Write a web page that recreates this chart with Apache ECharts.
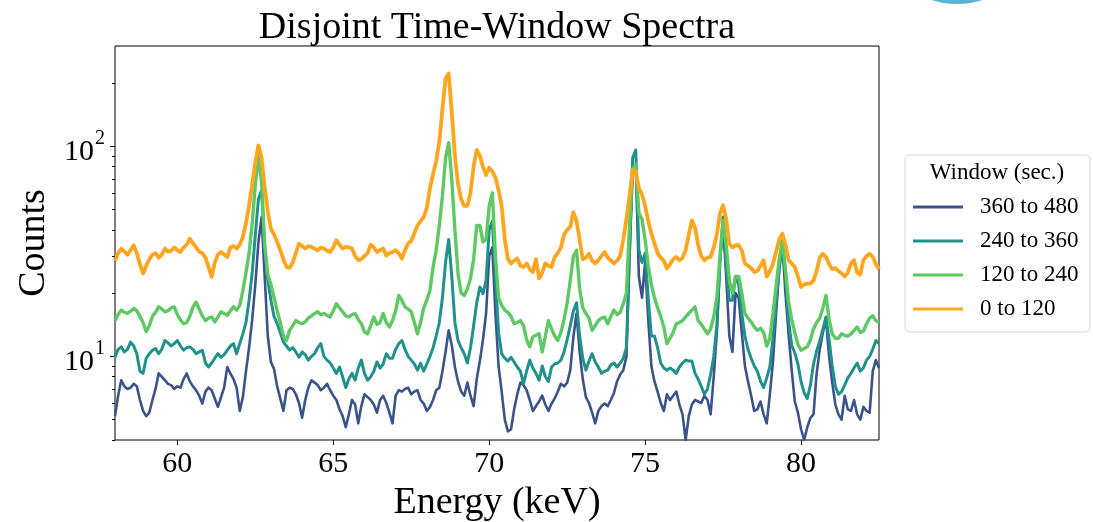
<!DOCTYPE html>
<html>
<head>
<meta charset="utf-8">
<script src="https://cdn.jsdelivr.net/npm/echarts@6/dist/echarts.min.js"></script>
<style>html,body{margin:0;padding:0;background:#fff;}#c{width:1093px;height:522px;}</style>
</head>
<body>
<div id="c"></div>
<script>
// Energy bins (keV)
const energy = [
58.0,58.1,58.2,58.3,58.4,58.5,58.6,58.7,58.8,58.9,
59.0,59.1,59.2,59.3,59.4,59.5,59.6,59.7,59.8,59.9,
60.0,60.1,60.2,60.3,60.4,60.5,60.6,60.7,60.8,60.9,
61.0,61.1,61.2,61.3,61.4,61.5,61.6,61.7,61.8,61.9,
62.0,62.1,62.2,62.3,62.4,62.5,62.6,62.7,62.8,62.9,
63.0,63.1,63.2,63.3,63.4,63.5,63.6,63.7,63.8,63.9,
64.0,64.1,64.2,64.3,64.4,64.5,64.6,64.7,64.8,64.9,
65.0,65.1,65.2,65.3,65.4,65.5,65.6,65.7,65.8,65.9,
66.0,66.1,66.2,66.3,66.4,66.5,66.6,66.7,66.8,66.9,
67.0,67.1,67.2,67.3,67.4,67.5,67.6,67.7,67.8,67.9,
68.0,68.1,68.2,68.3,68.4,68.5,68.6,68.7,68.8,68.9,
69.0,69.1,69.2,69.3,69.4,69.5,69.6,69.7,69.8,69.9,
70.0,70.1,70.2,70.3,70.4,70.5,70.6,70.7,70.8,70.9,
71.0,71.1,71.2,71.3,71.4,71.5,71.6,71.7,71.8,71.9,
72.0,72.1,72.2,72.3,72.4,72.5,72.6,72.7,72.8,72.9,
73.0,73.1,73.2,73.3,73.4,73.5,73.6,73.7,73.8,73.9,
74.0,74.1,74.2,74.3,74.4,74.5,74.6,74.7,74.8,74.9,
75.0,75.1,75.2,75.3,75.4,75.5,75.6,75.7,75.8,75.9,
76.0,76.1,76.2,76.3,76.4,76.5,76.6,76.7,76.8,76.9,
77.0,77.1,77.2,77.3,77.4,77.5,77.6,77.7,77.8,77.9,
78.0,78.1,78.2,78.3,78.4,78.5,78.6,78.7,78.8,78.9,
79.0,79.1,79.2,79.3,79.4,79.5,79.6,79.7,79.8,79.9,
80.0,80.1,80.2,80.3,80.4,80.5,80.6,80.7,80.8,80.9,
81.0,81.1,81.2,81.3,81.4,81.5,81.6,81.7,81.8,81.9,
82.0,82.1,82.2,82.3,82.4,82.5
];

// Window 0 to 120 s
const counts0to120 = [
28.5,31,32.5,31.5,30.5,32,33.8,31,27.5,24.8,
27,29,30.5,31,29.5,30.5,32.6,31.5,31.8,33,
32,31.4,33,34,36.3,34.5,33,31.5,31,29.5,
26.6,23.9,28,30.5,31.4,30.5,29.7,33,33.5,32.6,
34,37,43,52,66,84,101,88,64,49,
40.5,38,35,32,29,26.6,26.4,28,31,34.4,
33.5,32.6,33.5,33.2,32.5,32,33,32.6,31.8,31.4,
33,35.7,34,32.6,33.2,33,32.6,30,28.7,29,
30,31,34,33,31.4,32,32.6,30.2,31,31.4,
32,31,29.2,32,34.4,35.5,38.5,42,44,46,
51,63,74,85,105,150,210,222,145,90,
66,56,52,52,60,80,96,90,80,73,
79,76,71,62,52,36,29,27.7,28.5,29.2,
27,26.6,27.7,26,25.2,29,23.5,25,27.7,27,
26.6,29.7,31,33,38,40,41.3,48.6,44,36,
29,29.5,30.8,28.5,27.7,28.7,30,31.4,29.5,28.7,
27.7,28.5,30,36,45,58,77,76,63,59,
52,44,38.5,34.5,31,29.5,28.5,26.2,27.5,29,
29.7,28.7,29.5,32,38,44.4,41,34,30,28.7,
29.5,29.7,33,38,47.7,52.4,45,34.4,33,33.8,
33.8,32,27.7,27,26.3,25.2,25.5,27,28.7,24,
25.5,27.5,31.5,36,38.4,34,28.7,27.7,26.6,24,
21.4,22,22.2,22.2,23,25.5,29.5,30.8,29.7,27.5,
26,26.3,25.5,24.8,24,25,27.7,28.7,25,24.5,
28.7,30,30.8,29.7,27.5,26
];

// Window 120 to 240 s
const counts120to240 = [
14.8,15.8,16.6,16.2,16.0,16.4,16.9,16.5,15.5,14.5,
13.1,14,15.5,16.2,17.2,16.8,16.3,16.5,17,17.2,
15.8,14.9,14.3,14.5,15.5,17.2,18.1,16.8,15.6,14.8,
15.2,15.4,14.6,15.4,16.3,16,15.7,16.5,17.2,16.6,
17.5,20.5,25,31,43,66,90,68,34,24.5,
22,19,16.5,14.5,12.5,11.9,13.3,14,14.8,14.5,
14.3,14.6,15.2,15.6,16,16.3,15.8,16,15.7,15.4,
16.5,17.8,17,16.3,15.6,15.4,15.8,16,15,14.3,
13.1,12.8,14,15.4,14.2,14.5,16,14.5,13.8,14.8,
16.5,19.5,18.5,17.2,16.8,16.3,14.5,12.8,14.5,17,
18.5,20.6,26.6,32,42,58,88,104,70,40,
24.8,20,19.5,21,23.5,29,42,42,35,36,
52,60,30,19,17.5,16.6,16.2,15.5,14.3,14.5,
14.8,14,12,11.1,12.4,12.6,12.8,10.5,12.5,14.8,
13.5,12.5,11.9,13,15,18,23,30,32,21,
17,16,15.2,13.3,14,14.8,15.2,15.4,14.3,15.5,
16.6,15.8,16.2,17.8,20,42,78,82,48,45,
36,27,22,19,17,15.5,13.8,11.5,12.2,13,
14.3,14.5,14.8,15.4,16,16.6,17.2,14.8,14.2,13.5,
12.8,13.5,15.4,19,30,44.4,34,23,20,24,
24,20,16,15.2,14.6,13.8,13.3,13.6,13,11.2,
12.2,16,21.5,29,35.7,26,18.3,15,13,11.4,
10.7,10.9,11.1,12,13.5,14.5,15.2,17,19.5,15,
12.8,12.2,12.2,12.8,12.6,12.5,12.8,13.3,13.8,13,
13.2,14.3,15.2,15.6,14.8,14.5
];

// Window 240 to 360 s
const counts240to360 = [
9.9,10.8,11.1,10.5,10.8,11.7,11.2,10.3,8.5,8.3,
9.8,10.3,10.7,10.9,10.3,10.8,11.9,11.6,11.2,11.5,
11.9,11.2,10.7,11,11.1,10.8,10.3,10.5,10.7,9.3,
8.9,9.3,9.8,10.3,9.9,10.2,10.7,11.2,11.5,10.3,
11.5,12.8,14.5,18.5,25,38,56,62,33,23,
18.5,15.5,14.3,13,11.7,11.2,10.7,11,10.5,9.9,
10.5,10.2,9.6,10,10.3,11,11.5,10,9.6,9.3,
8.8,8.3,8.9,8,7.1,7.8,8.3,7.7,8.8,9.6,
8.3,7.7,8,8.5,9.4,8.8,9.2,10.3,9.8,9.8,
10.8,11.5,11.9,10.8,10,9.6,9.2,8.6,9.3,8.5,
9.2,10,11,12.5,14.5,19,28,36,24,14.5,
11.9,11,10.3,9.3,11,14,18,21.4,19.9,23,
40,44,24,13,10.3,9.8,9.5,9.9,9.4,8.9,
8.5,7.4,8.5,9.6,8.8,8.3,7.7,9,8,7.6,
8.9,9.2,9.3,9.6,10.5,12,14,16.5,18,12.5,
9.8,8.6,9.5,10.3,9.4,8.9,8.3,8.5,8.6,9.1,
9.3,8.9,9.3,9.8,11,32,88,96,32,28,
31,19,12.5,12.5,11,9.3,8.8,8.6,8.8,8.6,
8.3,8.9,9.3,9.6,9.5,9.5,8.3,7.8,7.2,6.6,
7,8.2,10,14,28,46,27,18.5,18.5,24,
22,16,12.5,10.8,9.8,9,8.5,7.6,7.1,7.9,
8.9,12.2,18,26,35.7,24,14.8,11.3,10.4,9.2,
7.6,6.7,6.3,7.3,9.2,10.6,11.8,13.5,15.4,12,
9,7.2,6.6,6.8,7.3,7.9,8.3,8.8,9.3,8.5,
8.8,9.6,10,10.8,11.9,11.5
];

// Window 360 to 480 s
const counts360to480 = [
5.2,6.5,7.7,7.2,7,7.1,7.4,7.2,6.2,5.5,
5.2,5.4,6.2,7,8.3,8,7.7,7.4,7.3,7,
7.2,7.1,7.8,8.3,7.6,7.2,6.9,6.5,5.96,6.8,
7.1,6.9,6.3,5.75,6.4,7.1,8.9,8.3,7.8,7.1,
5.5,6.4,8.5,11,15,22,35,46,24,12.5,
9.4,8.7,7.2,6.3,5.5,6.9,7.1,7,6.6,6,
5.1,6.2,7.1,7.7,7.5,7.3,6.9,7.1,7.4,6.9,
6.5,6.2,5.6,5.2,4.6,5.3,6.2,5.9,4.8,5.8,
6.6,6.4,6.2,5.9,5.4,6.2,6.5,6,5.4,4.8,
6.5,6.9,6.8,7,7.1,6.6,6.8,6.9,6.2,5.96,
5.5,5.75,6.2,6.9,7.1,8.5,10.5,13.3,11.3,8.9,
7.6,6.8,6.5,7.5,6.5,5.8,7.8,9.5,12,16,
30,33,16,9,6.8,5,4.4,4.5,5.6,6.6,
7.5,7.3,6.9,6.2,5.5,5.8,6.1,6.5,5.9,5.5,
5.96,6.3,6.8,7.4,7.2,7.5,8.6,12.4,16,10.5,
7.8,6.4,6,5.4,4.8,5.5,5.8,5.96,5.8,6.2,
6.7,7.6,8.2,8.6,10,30,75,82,24,19,
28,15,9,7.6,6.8,6,5.5,6.6,6.2,6.5,
6.8,5.9,5.3,4.0,5.2,5.9,6.2,6.1,6,6.5,
6.2,5.3,8,13,28,43,24,12.5,10.5,20,
19,13,9,7.6,6.5,5.5,5.6,6.1,5.3,4.8,
6.6,9.5,16,26,34.4,20,12.8,8.6,6.1,5.4,
4.5,4.0,4.6,5.1,5.3,8.3,10.8,13,15,10,
7.5,5.9,5.3,5,6.5,5.6,5.5,6.2,5.3,5,
5.75,5.5,5.4,8.5,9.6,8.8
];

const seriesNames = ['360 to 480', '240 to 360', '120 to 240', '0 to 120'];
const seriesValues = [counts360to480, counts240to360, counts120to240, counts0to120];
const xTickValues = [60, 65, 70, 75, 80];
const yMajorTicks = [10, 100];
const yMinorTicks = [4, 5, 6, 7, 8, 9, 20, 30, 40, 50, 60, 70, 80, 90, 200];

const colors = ['#3b528b', '#21918c', '#5ec962', '#ffa51f'];
const widths = [2.6, 3, 3.4, 3.8];
const FONT = 'Liberation Serif';

const chart = echarts.init(document.getElementById('c'));
const series = seriesNames.map((name, k) => ({
  name: name,
  type: 'line',
  data: energy.map((e, i) => [e, seriesValues[k][i]]),
  showSymbol: false,
  symbol: 'none',
  color: colors[k],
  lineStyle: { width: widths[k], color: colors[k], join: 'round' },
  clip: true,
  z: 2 + k
}));

chart.setOption({
  animation: false,
  backgroundColor: '#fff',
  grid: { left: 115, right: 214, top: 46, bottom: 82, show: true, borderColor: '#000', borderWidth: 1, backgroundColor: 'transparent', containLabel: false, outerBoundsMode: 'none' },
  xAxis: {
    type: 'value', min: 58, max: 82.5,
    axisLine: { show: false },
    axisTick: { show: true, customValues: xTickValues, length: 5, lineStyle: { color: '#000' } },
    axisLabel: { customValues: xTickValues, fontFamily: FONT, fontSize: 30, color: '#000', margin: 9 },
    splitLine: { show: false },
    name: 'Energy (keV)', nameLocation: 'middle', nameGap: 31,
    nameTextStyle: { fontFamily: FONT, fontSize: 38, color: '#000' }
  },
  yAxis: [{
    type: 'log', logBase: 10, min: 4, max: 300,
    axisLine: { show: false },
    axisTick: { show: true, customValues: yMajorTicks, length: 5, lineStyle: { color: '#000' } },
    axisLabel: {
      customValues: yMajorTicks, margin: 10,
      formatter: v => '{b|10}{s|' + Math.round(Math.log10(v)) + '}',
      rich: {
        b: { fontFamily: FONT, fontSize: 30, color: '#000', padding: [12, 0, 0, 0] },
        s: { fontFamily: FONT, fontSize: 20, color: '#000', padding: [0, 0, 16, 1] }
      }
    },
    splitLine: { show: false },
    name: 'Counts', nameLocation: 'middle', nameGap: 60,
    nameTextStyle: { fontFamily: FONT, fontSize: 38, color: '#000' }
  }, {
    type: 'log', logBase: 10, min: 4, max: 300, position: 'left',
    axisLine: { show: false },
    axisTick: { show: true, customValues: yMinorTicks, length: 3, lineStyle: { color: '#000' } },
    axisLabel: { show: false },
    splitLine: { show: false }
  }],
  legend: {
    data: seriesNames,
    orient: 'vertical', left: 913, top: 190, padding: 0,
    itemWidth: 50, itemHeight: 3, icon: 'rect', itemGap: 0,
    selectedMode: false,
    textStyle: { fontFamily: FONT, fontSize: 23, color: '#000', lineHeight: 34, padding: [0, 0, 0, 12] }
  },
  graphic: [
    { type: 'circle', shape: { cx: 957, cy: -79, r: 83 }, style: { fill: '#5ab4d6' }, silent: true },
    { type: 'rect', shape: { x: 905, y: 155, width: 185, height: 177, r: 5 }, style: { fill: '#fff', stroke: '#d6d6d6', lineWidth: 1 }, z: -1, silent: true },
    { type: 'text', x: 997, y: 173, style: { text: 'Window (sec.)', font: '23px "Liberation Serif"', fill: '#000', textAlign: 'center', textVerticalAlign: 'middle' }, silent: true },
    { type: 'text', x: 497, y: 28, style: { text: 'Disjoint Time-Window Spectra', font: '38px "Liberation Serif"', fill: '#000', textAlign: 'center', textVerticalAlign: 'middle' }, silent: true }
  ],
  series: series
});
</script>
</body>
</html>
